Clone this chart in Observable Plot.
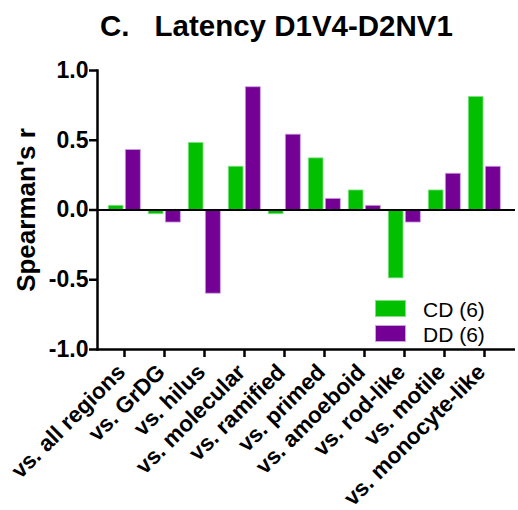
<!DOCTYPE html>
<html>
<head>
<meta charset="utf-8">
<script src="https://cdn.jsdelivr.net/npm/d3@7"></script>
<script src="https://cdn.jsdelivr.net/npm/@observablehq/plot@0.6"></script>
<style>
  html, body { margin: 0; padding: 0; background: #fff; }
  #wrap { position: relative; width: 518px; height: 510px; font-family: "Liberation Sans", Arial, sans-serif; }
  #title { position: absolute; left: 100px; top: 11px; font-size: 29.5px; font-weight: bold; line-height: 1; white-space: pre; color: #000; }
  .sw { position: absolute; width: 31px; height: 17px; box-sizing: border-box; }
  .lt { position: absolute; font-size: 21px; line-height: 1; color: #000; white-space: pre; }
</style>
</head>
<body>
<div id="wrap">
  <div id="title">C.<span style="margin-left:25px">Latency D1V4-D2NV1</span></div>
</div>
<script>
const categories = ["vs. all regions", "vs. GrDG", "vs. hilus", "vs. molecular", "vs. ramified", "vs. primed", "vs. amoeboid", "vs. rod-like", "vs. motile", "vs. monocyte-like"];
const cdValues = [0.03, -0.03, 0.48, 0.31, -0.03, 0.37, 0.14, -0.49, 0.14, 0.81];
const ddValues = [0.43, -0.09, -0.60, 0.88, 0.54, 0.08, 0.03, -0.09, 0.26, 0.31];
const yTicks = [-1.0, -0.5, 0.0, 0.5, 1.0];
const seriesNames = ["CD (6)", "DD (6)"];
const seriesColors = ["#00C000", "#750096"];
const seriesEdges = ["#7fe07f", "#c9a3dc"];
const yTitle = "Spearman's r";

const rows = categories.map((c, i) => ({cat: c, cd: cdValues[i], dd: ddValues[i]}));

const chart = Plot.plot({
  width: 518,
  height: 510,
  marginTop: 70,
  marginBottom: 161,
  marginLeft: 97,
  marginRight: 3,
  style: {fontFamily: "'Liberation Sans', Arial, sans-serif", background: "transparent", color: "#000"},
  x: {domain: categories, range: [101.4, 507.4], padding: 0},
  y: {domain: [-1, 1]},
  marks: [
    Plot.barY(rows, {x: "cat", y: "cd", fill: seriesColors[0], stroke: seriesEdges[0], strokeWidth: 0.8, insetLeft: 4.3, insetRight: 21}),
    Plot.barY(rows, {x: "cat", y: "dd", fill: seriesColors[1], stroke: seriesEdges[1], strokeWidth: 0.8, insetLeft: 21.3, insetRight: 3.7}),
    Plot.ruleY([0], {stroke: "#000", strokeWidth: 2}),
    Plot.ruleY([-1], {stroke: "#000", strokeWidth: 2.5}),
    Plot.frame({anchor: "left", stroke: "#000", strokeWidth: 2.5}),
    Plot.axisY({ticks: yTicks, tickFormat: d => d.toFixed(1), tickSize: 8, tickPadding: 1, fontSize: 23, fontWeight: "bold", strokeWidth: 2.5, label: null}),
    Plot.axisX({tickSize: 8, strokeWidth: 2.5, tickFormat: null, label: null}),
    Plot.text(categories, {x: d => d, frameAnchor: "bottom", rotate: -45, textAnchor: "end", lineAnchor: "bottom", dx: 2, dy: 24, fontSize: 22.5, fontWeight: "bold", fill: "#000"}),
    Plot.text([yTitle], {frameAnchor: "left", textAnchor: "middle", rotate: -90, dx: -71, fontSize: 26, fontWeight: "bold", fill: "#000"})
  ]
});
const wrap = document.getElementById("wrap");
wrap.appendChild(chart);
chart.style.position = "absolute";
chart.style.left = "0px";
chart.style.top = "0px";

const legendTops = [300, 324.5];
const textTops = [299, 324];
seriesNames.forEach((name, i) => {
  const sw = document.createElement("div");
  sw.className = "sw";
  sw.style.left = "375px";
  sw.style.top = legendTops[i] + "px";
  sw.style.background = seriesColors[i];
  sw.style.border = "1px solid " + seriesEdges[i];
  wrap.appendChild(sw);
  const t = document.createElement("div");
  t.className = "lt";
  t.style.left = "423px";
  t.style.top = textTops[i] + "px";
  t.textContent = name;
  wrap.appendChild(t);
});
</script>
</body>
</html>
